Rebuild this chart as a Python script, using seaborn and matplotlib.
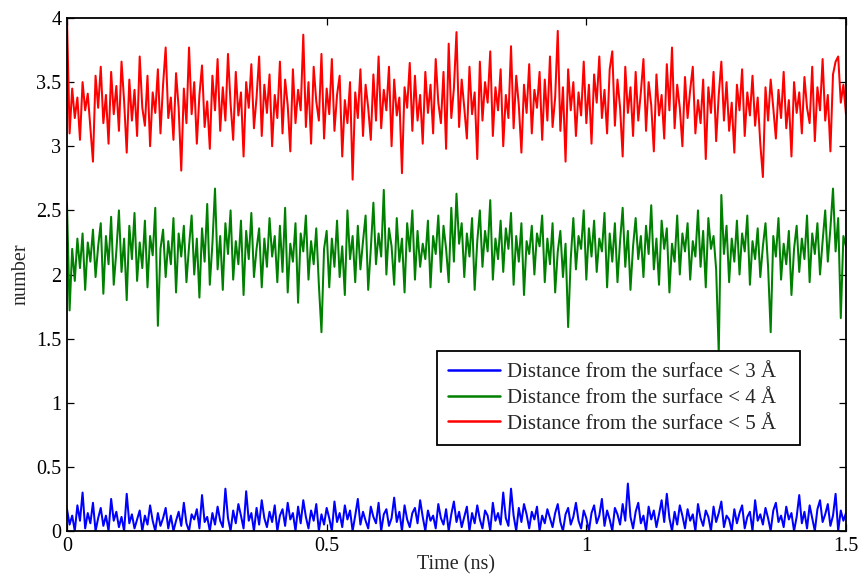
import numpy as np
import pandas as pd
import seaborn as sns
import matplotlib
matplotlib.use("Agg")
import matplotlib.pyplot as plt

# time axis (ns), sampled every 0.005 ns
time_ns = [round(i * 0.005, 3) for i in range(301)]

within_3A = [
    0.17, 0.05, 0.12, 0.00, 0.20, 0.08, 0.30, 0.02, 0.14, 0.06, 0.22, 0.00, 0.10, 0.18, 0.04, 0.12, 0.00, 0.25, 0.08, 0.15,
    0.03, 0.11, 0.00, 0.29, 0.06, 0.13, 0.02, 0.09, 0.16, 0.00, 0.12, 0.05, 0.20, 0.08, 0.00, 0.14, 0.04, 0.10, 0.18, 0.02,
    0.12, 0.00, 0.08, 0.15, 0.04, 0.22, 0.06, 0.00, 0.13, 0.09, 0.17, 0.02, 0.28, 0.07, 0.11, 0.00, 0.14, 0.05, 0.19, 0.08,
    0.03, 0.33, 0.10, 0.00, 0.16, 0.06, 0.21, 0.12, 0.02, 0.31, 0.08, 0.14, 0.00, 0.18, 0.05, 0.24, 0.10, 0.03, 0.15, 0.07,
    0.20, 0.00, 0.12, 0.17, 0.04, 0.22, 0.09, 0.14, 0.00, 0.19, 0.06, 0.24, 0.11, 0.02, 0.16, 0.08, 0.21, 0.00, 0.13, 0.05,
    0.18, 0.10, 0.00, 0.23, 0.07, 0.14, 0.03, 0.20, 0.09, 0.16, 0.00, 0.12, 0.25, 0.05, 0.15, 0.08, 0.02, 0.19, 0.11, 0.06,
    0.22, 0.00, 0.13, 0.17, 0.04, 0.10, 0.26, 0.07, 0.15, 0.00, 0.20, 0.09, 0.03, 0.14, 0.18, 0.06, 0.24, 0.11, 0.00, 0.16,
    0.08, 0.12, 0.02, 0.21, 0.10, 0.05, 0.17, 0.00, 0.13, 0.23, 0.07, 0.15, 0.03, 0.11, 0.19, 0.00, 0.14, 0.06, 0.20, 0.09,
    0.02, 0.16, 0.12, 0.00, 0.22, 0.08, 0.14, 0.05, 0.30, 0.10, 0.04, 0.33, 0.12, 0.00, 0.18, 0.07, 0.21, 0.13, 0.02, 0.15,
    0.09, 0.19, 0.00, 0.12, 0.06, 0.17, 0.10, 0.03, 0.14, 0.21, 0.07, 0.00, 0.13, 0.18, 0.05, 0.11, 0.22, 0.08, 0.02, 0.16,
    0.10, 0.00, 0.14, 0.20, 0.06, 0.12, 0.25, 0.04, 0.16, 0.09, 0.00, 0.18, 0.13, 0.05, 0.21, 0.08, 0.37, 0.11, 0.02, 0.15,
    0.22, 0.06, 0.12, 0.00, 0.19, 0.09, 0.16, 0.03, 0.13, 0.24, 0.07, 0.29, 0.10, 0.00, 0.15, 0.05, 0.20, 0.12, 0.02, 0.17,
    0.08, 0.13, 0.00, 0.21, 0.10, 0.04, 0.16, 0.11, 0.00, 0.19, 0.07, 0.14, 0.23, 0.03, 0.12, 0.09, 0.00, 0.17, 0.06, 0.14,
    0.20, 0.02, 0.11, 0.15, 0.00, 0.24, 0.08, 0.13, 0.05, 0.18, 0.10, 0.00, 0.16, 0.22, 0.07, 0.12, 0.03, 0.19, 0.09, 0.14,
    0.00, 0.11, 0.28, 0.06, 0.15, 0.02, 0.20, 0.10, 0.00, 0.17, 0.24, 0.07, 0.13, 0.21, 0.04, 0.12, 0.29, 0.00, 0.16, 0.08,
    0.14,
]

within_4A = [
    2.55, 1.72, 2.20, 1.95, 2.28, 2.05, 2.32, 1.88, 2.25, 2.10, 2.35, 1.98, 2.22, 2.40, 1.85, 2.30, 2.08, 2.45, 1.92, 2.18,
    2.50, 2.02, 2.28, 1.80, 2.38, 2.12, 2.48, 1.95, 2.25, 2.05, 2.42, 1.90, 2.30, 2.15, 2.52, 1.60, 2.20, 2.35, 1.98, 2.26,
    2.08, 2.44, 1.86, 2.32, 2.14, 2.38, 1.94, 2.22, 2.46, 2.00, 2.28, 1.82, 2.36, 2.10, 2.55, 1.92, 2.24, 2.67, 2.04, 2.30,
    1.88, 2.40, 2.16, 2.50, 1.96, 2.26, 2.08, 2.42, 1.84, 2.34, 2.12, 2.48, 1.98, 2.20, 2.36, 1.90, 2.28, 2.06, 2.44, 2.14,
    2.30, 1.94, 2.38, 2.02, 2.52, 1.86, 2.24, 2.10, 2.40, 1.78, 2.32, 2.18, 2.46, 1.96, 2.26, 2.08, 2.36, 1.92, 1.55, 2.20,
    2.34, 1.90, 2.28, 2.06, 2.42, 1.98, 2.22, 1.84, 2.50, 2.12, 2.30, 1.94, 2.38, 2.04, 2.26, 2.46, 1.88, 2.20, 2.56, 2.08,
    2.32, 2.14, 2.66, 2.00, 2.36, 2.22, 1.92, 2.44, 2.10, 2.28, 1.86, 2.40, 2.18, 2.50, 1.96, 2.34, 2.06, 2.24, 2.12, 2.42,
    1.90, 2.30, 2.16, 2.46, 2.02, 2.38, 2.20, 1.94, 2.52, 2.10, 2.63, 2.24, 2.40, 1.98, 2.32, 2.14, 2.44, 1.88, 2.26, 2.50,
    2.06, 2.34, 2.18, 2.58, 1.96, 2.28, 2.12, 2.42, 2.02, 2.36, 2.20, 2.48, 1.92, 2.30, 2.10, 2.40, 1.84, 2.26, 2.16, 2.38,
    2.00, 2.32, 2.22, 2.46, 1.94, 2.28, 2.08, 2.40, 1.86, 2.18, 2.34, 1.98, 2.24, 1.59, 2.12, 2.44, 2.04, 2.30, 2.20, 2.50,
    1.96, 2.36, 2.14, 2.42, 2.02, 2.28, 2.18, 2.48, 1.90, 2.32, 2.10, 2.40, 1.94, 2.26, 2.52, 2.06, 2.34, 1.88, 2.22, 2.44,
    2.12, 2.30, 1.98, 2.38, 2.16, 2.54, 2.04, 2.28, 1.92, 2.42, 2.20, 2.36, 1.86, 2.24, 2.10, 2.46, 2.00, 2.32, 2.18, 2.40,
    1.96, 2.26, 2.14, 2.50, 2.06, 2.34, 1.90, 2.44, 2.20, 2.30, 2.04, 1.38, 2.62, 2.16, 2.38, 1.94, 2.28, 2.10, 2.42, 2.00,
    2.32, 2.18, 2.46, 1.92, 2.26, 2.12, 2.36, 1.98, 2.22, 2.40, 2.06, 1.55, 2.30, 2.14, 2.44, 1.96, 2.24, 2.08, 2.34, 1.84,
    2.20, 2.38, 2.02, 2.28, 2.12, 2.46, 1.94, 2.32, 2.16, 2.40, 2.00, 2.26, 2.50, 2.10, 2.36, 2.67, 2.18, 2.44, 1.66, 2.30,
    2.22,
]

within_5A = [
    4.00, 3.10, 3.45, 3.22, 3.38, 3.05, 3.50, 3.28, 3.41, 3.15, 2.88, 3.55, 3.30, 3.62, 3.18, 3.40, 3.02, 3.58, 3.25, 3.47,
    3.12, 3.66, 3.35, 2.95, 3.52, 3.20, 3.44, 3.08, 3.70, 3.30, 3.16, 3.55, 3.00, 3.42, 3.26, 3.60, 3.10, 3.48, 3.77, 3.22,
    3.38, 3.05, 3.57, 3.30, 2.81, 3.45, 3.18, 3.77, 3.25, 3.50, 3.02, 3.40, 3.63, 3.15, 3.35, 2.98, 3.55, 3.28, 3.68, 3.12,
    3.46, 3.20, 3.72, 3.33, 3.05, 3.58, 3.24, 3.42, 2.92, 3.50, 3.30, 3.64, 3.14, 3.38, 3.70, 3.08, 3.48, 3.26, 3.56, 3.00,
    3.40, 3.22, 3.66, 3.10, 3.52, 3.32, 2.96, 3.60, 3.18, 3.44, 3.28, 3.87, 3.15, 3.50, 3.02, 3.62, 3.35, 3.20, 3.72, 3.06,
    3.45, 3.25, 3.68, 3.12, 3.40, 3.55, 2.92, 3.36, 3.18, 3.50, 2.74, 3.42, 3.22, 3.60, 3.08, 3.48, 3.30, 3.05, 3.56, 3.20,
    3.70, 3.14, 3.44, 3.28, 3.62, 3.00, 3.52, 3.24, 3.38, 2.79, 3.46, 3.30, 3.65, 3.12, 3.55, 3.20, 3.40, 3.02, 3.58, 3.26,
    3.48, 3.10, 3.68, 3.34, 3.18, 3.58, 2.98, 3.80, 3.22, 3.45, 3.89, 3.15, 3.52, 3.30, 3.06, 3.62, 3.25, 3.42, 2.90, 3.66,
    3.20, 3.50, 3.34, 3.74, 3.08, 3.46, 3.28, 3.60, 3.00, 3.40, 3.22, 3.78, 3.14, 3.55, 3.32, 2.95, 3.48, 3.26, 3.64, 3.10,
    3.44, 3.30, 3.58, 3.05, 3.52, 3.20, 3.70, 3.15, 3.38, 3.90, 3.12, 3.46, 2.88, 3.60, 3.28, 3.50, 3.08, 3.42, 3.24, 3.66,
    3.18, 3.48, 3.02, 3.56, 3.34, 3.70, 3.22, 3.44, 3.10, 3.60, 3.74, 3.16, 3.52, 3.30, 2.92, 3.62, 3.26, 3.46, 3.08, 3.58,
    3.20, 3.42, 3.68, 3.12, 3.50, 3.32, 2.96, 3.56, 3.24, 3.40, 3.06, 3.64, 3.28, 3.77, 3.14, 3.48, 3.30, 3.00, 3.54, 3.22,
    3.44, 3.62, 3.10, 3.36, 3.18, 3.52, 2.90, 3.46, 3.26, 3.58, 3.04, 3.40, 3.66, 3.20, 3.50, 3.12, 3.34, 2.95, 3.48, 3.28,
    3.60, 3.08, 3.42, 3.24, 3.55, 3.16, 3.38, 3.02, 2.76, 3.46, 3.20, 3.52, 3.30, 3.06, 3.44, 3.22, 3.58, 3.14, 3.36, 2.92,
    3.50, 3.26, 3.42, 3.10, 3.54, 3.30, 3.18, 3.62, 3.04, 3.46, 3.28, 3.68, 3.20, 3.40, 2.96, 3.56, 3.66, 3.70, 3.34, 3.48,
    3.25,
]

series_labels = [
    "Distance from the surface < 3 Å",
    "Distance from the surface < 4 Å",
    "Distance from the surface < 5 Å",
]
series_colors = ["#0000ff", "#008000", "#ff0000"]

x_ticks = [0, 0.5, 1, 1.5]
x_tick_labels = ["0", "0.5", "1", "1.5"]
y_ticks = [0, 0.5, 1, 1.5, 2, 2.5, 3, 3.5, 4]
y_tick_labels = ["0", "0.5", "1", "1.5", "2", "2.5", "3", "3.5", "4"]

sns.set_style("ticks")
plt.rcParams["font.family"] = ["Liberation Serif", "DejaVu Serif"]

df = pd.concat([
    pd.DataFrame({"time": time_ns, "value": vals, "series": lab})
    for vals, lab in zip([within_3A, within_4A, within_5A], series_labels)
], ignore_index=True)

fig = plt.figure(figsize=(8.6, 5.79), dpi=100)
ax = fig.add_axes([0.0779, 0.0829, 0.9058, 0.886])

sns.lineplot(data=df, x="time", y="value", hue="series", hue_order=series_labels,
             palette=dict(zip(series_labels, series_colors)), linewidth=1.45,
             ax=ax, estimator=None, sort=False)

ax.set_xlim(0, 1.5)
ax.set_ylim(0, 4)
ax.set_xticks(x_ticks)
ax.set_xticklabels(x_tick_labels)
ax.set_yticks(y_ticks)
ax.set_yticklabels(y_tick_labels)
ax.tick_params(direction="in", length=5, width=0.9, labelsize=14.5, pad=4,
               top=True, right=True, color="black", labelcolor="black")
for s in ax.spines.values():
    s.set_visible(True)
    s.set_linewidth(1.3)
    s.set_color("black")
ax.set_xlabel("Time (ns)", fontsize=14.5, labelpad=0)
ax.set_ylabel("number", fontsize=14.5, labelpad=4)

leg = ax.legend(loc="upper left", bbox_to_anchor=(0.475, 0.0, 0.466, 0.351),
                mode="expand", frameon=True,
                fancybox=False, edgecolor="black", fontsize=15,
                handlelength=2.45, handletextpad=0.35, borderpad=0.55,
                labelspacing=0.3, borderaxespad=0, framealpha=1)
leg.get_frame().set_linewidth(1.3)
for line in leg.get_lines():
    line.set_linewidth(1.8)

fig.savefig("out.png", dpi=100)
